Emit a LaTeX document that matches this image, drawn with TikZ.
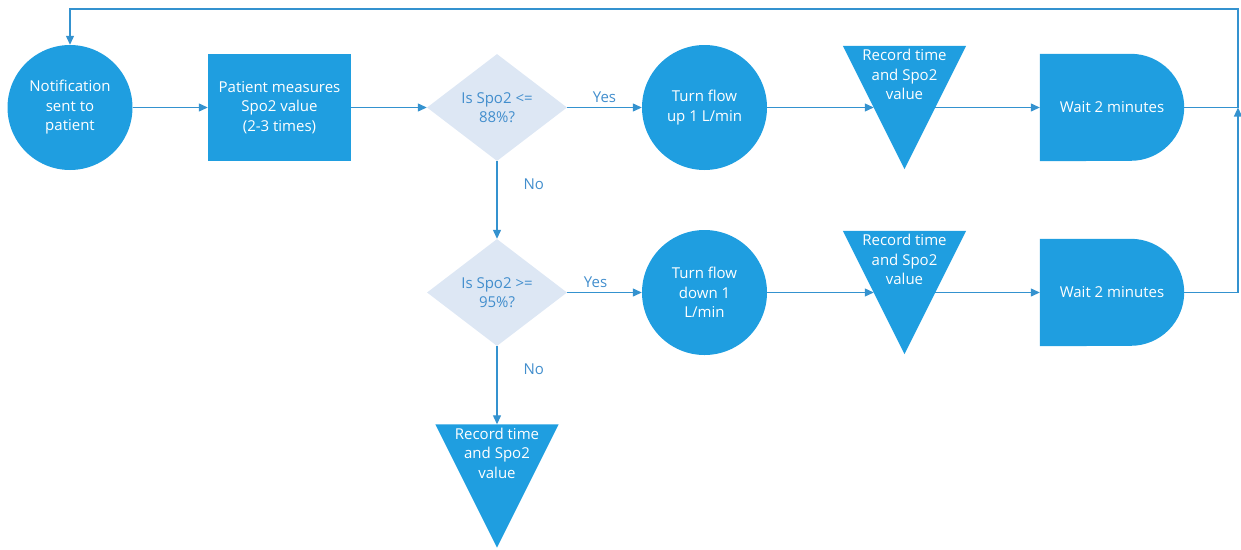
\documentclass[tikz,border=0pt]{standalone}
\usepackage{fontspec}
\setmainfont{Open Sans}
\usetikzlibrary{shapes.geometric,arrows.meta,backgrounds,calc}
\definecolor{mainblue}{RGB}{31,158,224}
\definecolor{linecol}{RGB}{52,146,207}
\definecolor{diafill}{RGB}{221,231,244}
\definecolor{diatext}{RGB}{66,142,205}
\begin{document}
\begin{tikzpicture}[x=1pt,y=-1pt,
  every node/.style={font=\fontsize{15}{19.5}\selectfont, align=center, inner sep=0pt},
  bshape/.style={fill=mainblue, text=white},
  circ/.style={bshape, circle, minimum size=125pt},
  procbox/.style={bshape, rectangle, minimum width=143pt, minimum height=107pt},
  decis/.style={diamond, fill=diafill, text=diatext, minimum width=140pt, minimum height=107pt, aspect=1.31},
  trireg/.style={rectangle, minimum width=123pt, minimum height=123pt},
  tritext/.style={text=white},
  waitreg/.style={rectangle, minimum width=144pt, minimum height=107pt, text=white},
  lbl/.style={text=diatext},
  conn/.style={draw=linecol, line width=1.2pt},
  arr/.style={conn, -{Triangle[length=9pt,width=8pt]}}
]
\useasboundingbox (0,0) rectangle (1241,549);

% row 1
\node[circ] (c1) at (70,107.5) {Notification\\sent to\\patient};
\node[procbox] (r1) at (279.5,107.5) {Patient measures\\Spo2 value\\(2-3 times)};
\node[decis] (d1) at (497,107.5) {Is Spo2 <=\\88\%?};
\node[circ] (c2) at (704.5,107.5) {Turn flow\\up 1 L/min};
\node[trireg] (t1) at (904.5,107.5) {};
\node[tritext] (t1txt) at ([yshift=33pt]t1.center) {Record time\\and Spo2\\value};
\node[waitreg] (w1) at (1112,107.5) {Wait 2 minutes};

% row 2
\node[decis] (d2) at (497,292.5) {Is Spo2 >=\\95\%?};
\node[circ] (c3) at (704.5,292.5) {Turn flow\\down 1\\L/min};
\node[trireg] (t2) at (904.5,292.5) {};
\node[tritext] (t2txt) at ([yshift=33pt]t2.center) {Record time\\and Spo2\\value};
\node[waitreg] (w2) at (1112,292.5) {Wait 2 minutes};

% row 3
\node[trireg] (t3) at (497,486) {};
\node[tritext] (t3txt) at ([yshift=33pt]t3.center) {Record time\\and Spo2\\value};

% shapes behind text
\begin{scope}[on background layer]
  \foreach \t in {t1,t2,t3}{
    \fill[mainblue] (\t.north west) -- (\t.north east) -- (\t.south) -- cycle;
  }
  \foreach \w in {w1,w2}{
    \fill[mainblue] (\w.north west) -- ([xshift=-53.5pt]\w.north east)
      arc[start angle=90, end angle=-90, radius=53.5pt] -- (\w.south west) -- cycle;
  }
\end{scope}

% coordinates
\coordinate (t1in) at ([xshift=-30.75pt]t1.center);
\coordinate (t1out) at ([xshift=30.75pt]t1.center);
\coordinate (t2in) at ([xshift=-30.75pt]t2.center);
\coordinate (t2out) at ([xshift=30.75pt]t2.center);
\coordinate (rj1) at (1238,107.5);
\coordinate (rj2) at (1238,292.5);
\coordinate (topr) at (1238,9);
\coordinate (topl) at (c1.north |- topr);

% connectors row 1
\draw[arr] (c1.east) -- (r1.west);
\draw[arr] (r1.east) -- (d1.west);
\draw[arr] (d1.east) -- node[lbl, above=4pt, pos=0.5] (y1) {Yes} (c2.west);
\draw[arr] (c2.east) -- (t1in);
\draw[arr] (t1out) -- (w1.west);
\draw[conn] (w1.east) -- (rj1);

% connectors row 2
\draw[arr] (d1.south) -- node[lbl, right=26pt, pos=0.3] (n1) {No} (d2.north);
\draw[arr] (d2.east) -- node[lbl, above=4pt, pos=0.38] (y2) {Yes} (c3.west);
\draw[arr] (c3.east) -- (t2in);
\draw[arr] (t2out) -- (w2.west);
\draw[arr] (w2.east) -- (rj2) -- (rj1);

% row 3
\draw[arr] (d2.south) -- node[lbl, right=26pt, pos=0.3] (n2) {No} (t3.north);

% loop back
\draw[arr] (rj1) -- (topr) -- (topl) -- (c1.north);
\end{tikzpicture}
\end{document}
